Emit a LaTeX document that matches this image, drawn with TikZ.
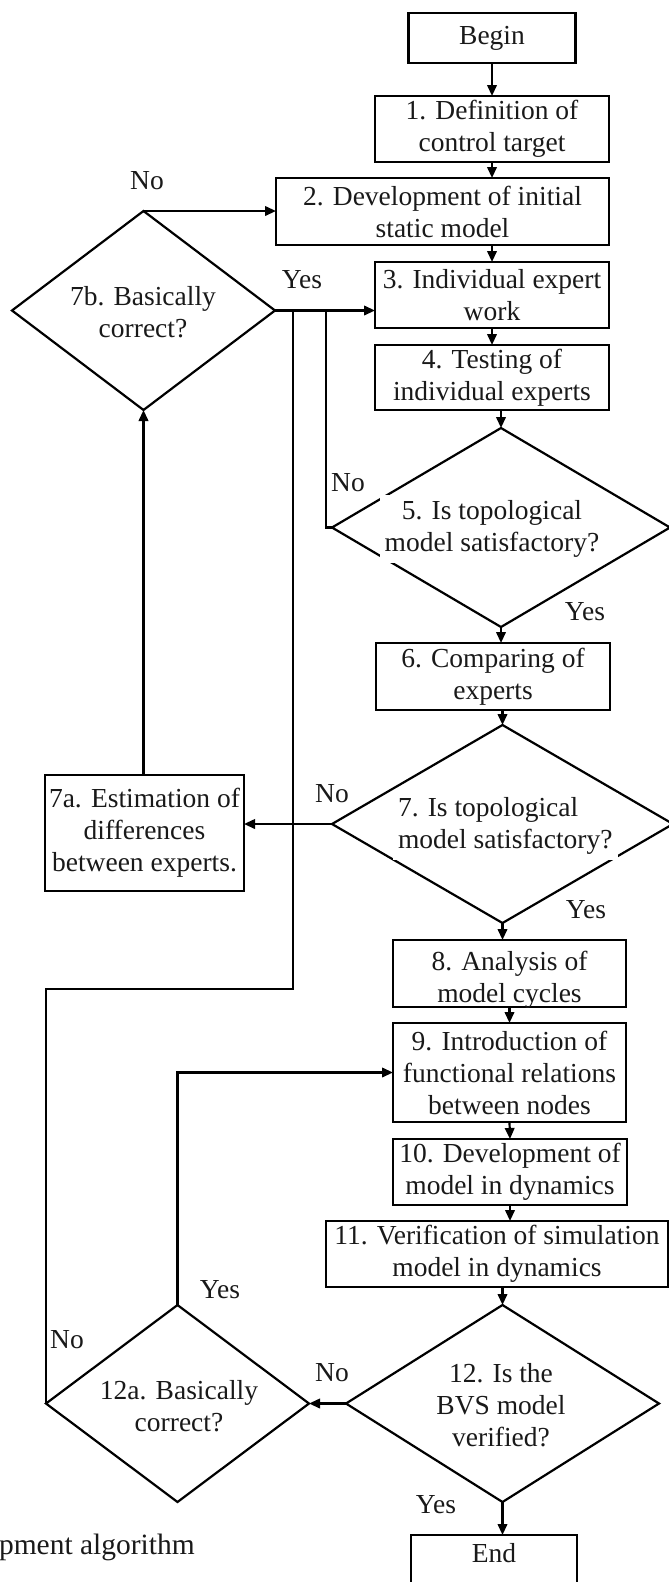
\documentclass[tikz,border=0pt]{standalone}
\usepackage{fontspec}
\setmainfont{Liberation Serif}
\usetikzlibrary{shapes.geometric,arrows.meta}
\begin{document}
\begin{tikzpicture}[x=1pt,y=-1pt,
  every node/.style={font=\fontsize{27.5}{32}\selectfont, inner sep=0pt, outer sep=0pt, text=black!90},
  box/.style={draw, line width=2.2pt, align=center},
  dia/.style={draw, diamond, line width=2.2pt, inner sep=0pt, outer sep=0pt},
  ln/.style={line width=2.2pt},
  arr/.style={line width=2.2pt, -{Triangle[length=11pt,width=9.5pt]}},
  gap/.style={fill=white, inner sep=5pt},
  lbl/.style={}]
\useasboundingbox (0,0) rectangle (669,1582);
\clip (0,0) rectangle (669,1582);

% boxes
\node[box, minimum width=167, minimum height=50] (begin) at (492,38) {Begin};
\node[box, minimum width=234, minimum height=66] (b1) at (492,129) {1. Definition of\\control target};
\node[box, minimum width=333, minimum height=67] (b2) at (442.5,211.5) {2. Development of initial\\static model};
\node[box, minimum width=234, minimum height=66] (b3) at (492,295) {3. Individual expert\\work};
\node[box, minimum width=234, minimum height=65] (b4) at (492,377.5) {4. Testing of\\individual experts};
\node[box, minimum width=234, minimum height=67] (b6) at (493,676.5) {6. Comparing of\\experts};
\node[box, minimum width=199, minimum height=116] (a7) at (144.5,833) {7a. Estimation of\\differences\\between experts.};
\node[box, minimum width=233, minimum height=67] (b8) at (509.5,973.5) {};
\node (t8) at (509.5,980) [align=center] {8. Analysis of\\model cycles};
\node[box, minimum width=233, minimum height=99] (b9) at (509.5,1072.5) {9. Introduction of\\functional relations\\between nodes};
\node[box, minimum width=234, minimum height=66] (b10) at (510,1172) {10. Development of\\model in dynamics};
\node[box, minimum width=342, minimum height=66] (b11) at (497,1254) {11. Verification of simulation\\model in dynamics};
\node[box, minimum width=166, text height=27, text depth=31, anchor=north] (end) at (494,1535) {End};

% diamonds
\node[dia, minimum width=263, minimum height=199] (d7b) at (143.5,310.5) {};
\node[align=center] (t7b) at (143,312) {7b. Basically\\correct?};
\node[dia, minimum width=338, minimum height=199] (d5) at (501,527.5) {};
\node[gap, align=center] (t5) at (492,529) {5. Is topological\\model satisfactory?};
\node[dia, minimum width=341, minimum height=198] (d7) at (502.5,824) {};
\node[gap, align=left, anchor=west] (t7) at (393,826) {7. Is topological\\model satisfactory?};
\node[dia, minimum width=313, minimum height=197] (d12) at (502.5,1403.5) {};
\node[align=center] (t12) at (501,1405) {12. Is the\\BVS model\\verified?};
\node[dia, minimum width=263, minimum height=197] (d12a) at (177.5,1403.5) {};
\node[align=center] (t12a) at (179,1406) {12a. Basically\\correct?};

% helper coordinates
\coordinate (xa) at (326,0);
\coordinate (nb) at (293,989);

% main flow
\draw[arr] (begin.south) -- (begin.south |- b1.north);
\draw[arr] (b1.south) -- (b1.south |- b2.north);
\draw[arr] (b3.north |- b2.south) -- (b3.north);
\draw[arr] (b3.south) -- (b4.north);
\draw[arr] (d5.north |- b4.south) -- (d5.north);
\draw[arr] (d5.south) -- (d5.south |- b6.north);
\draw[arr] (d7.north |- b6.south) -- (d7.north);
\draw[arr] (d7.south) -- (d7.south |- b8.north);
\draw[arr] (b8.south) -- (b9.north);
\draw[arr] (b9.south) -- (b10.north);
\draw[arr] (b10.south) -- (b10.south |- b11.north);
\draw[arr] (d12.north |- b11.south) -- (d12.north);
\draw[arr] (d12.south) -- (d12.south |- end.north);

% branches
\draw[arr] (d7b.north) -- (d7b.north -| b2.west);
\draw[arr] (d7b.east) -- (d7b.east -| b3.west);
\draw[ln] (d5.west) -- (d5.west -| xa) -- (xa |- d7b.east);
\draw[arr] (d7.west) -- (d7.west -| a7.east);
\draw[arr] (d7b.south |- a7.north) -- (d7b.south);
\draw[arr] (d12.west) -- (d12a.east);
\draw[arr] (d12a.north) -- (d12a.north |- b9.west) -- (b9.west);
\draw[ln] (d12a.west) -- (d12a.west |- nb) -- (nb) -- (nb |- d7b.east);

% labels
\node[lbl] (l1) at (147,181) {No};
\node[lbl] (l2) at (302,280) {Yes};
\node[lbl] (l3) at (348,483) {No};
\node[lbl] (l4) at (585,612) {Yes};
\node[lbl] (l5) at (332,794) {No};
\node[lbl] (l6) at (586,910) {Yes};
\node[lbl] (l7) at (220,1290) {Yes};
\node[lbl] (l8) at (67,1340) {No};
\node[lbl] (l9) at (332,1373) {No};
\node[lbl] (l10) at (436,1505) {Yes};
\node[anchor=base west, font=\fontsize{29.5}{34}\selectfont] (cap) at (-1,1554) {pment algorithm};
\end{tikzpicture}
\end{document}
